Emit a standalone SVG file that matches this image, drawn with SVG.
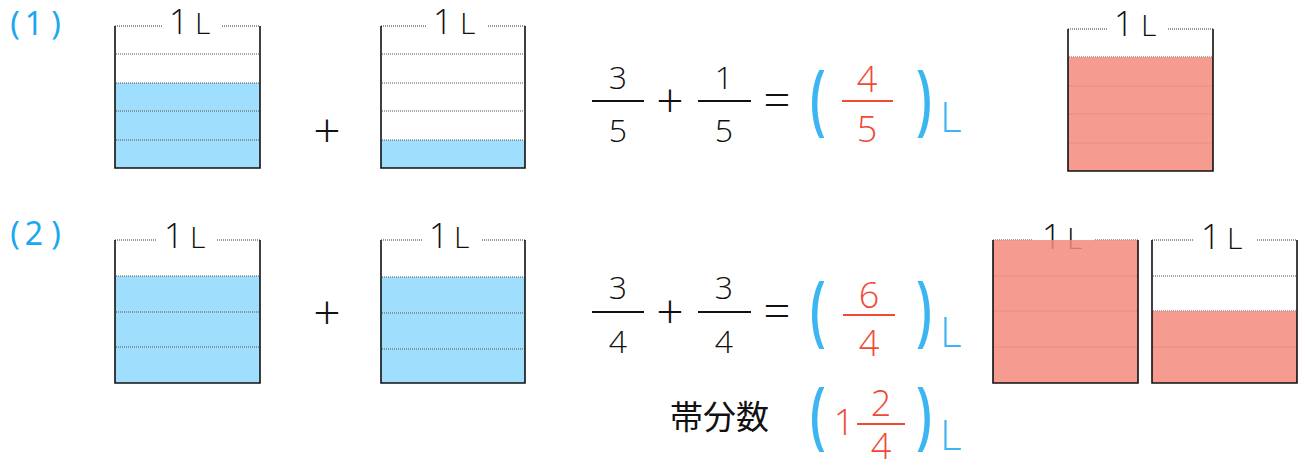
<svg xmlns="http://www.w3.org/2000/svg" width="1305" height="465" viewBox="0 0 1305 465">
<style>
.wall{fill:none;stroke:#111;stroke-width:1.6}
.top{stroke:#333;stroke-width:1;stroke-dasharray:1 1}
.div{stroke:#555;stroke-width:1;stroke-dasharray:1 1}
.blue{fill:#9fdefc}
.red{fill:#f58a7b;opacity:0.85}
.lab{font-family:"Open Sans","Noto Sans","Liberation Sans",sans-serif;font-weight:300;fill:#111}
.num{font-family:"Open Sans","Noto Sans","Liberation Sans",sans-serif;font-weight:300;font-size:32px;fill:#111;text-anchor:middle}
.rnum{font-family:"Open Sans","Noto Sans","Liberation Sans",sans-serif;font-weight:300;font-size:36px;fill:#f04a35;text-anchor:middle}
.op{font-family:"Open Sans","Noto Sans","Liberation Sans",sans-serif;font-weight:300;font-size:48px;fill:#111;text-anchor:middle}
.par{font-family:"Open Sans","Noto Sans",sans-serif;font-weight:600;font-size:50px;fill:#3cb6f3;text-anchor:middle}
.unit{font-family:"Open Sans","Noto Sans","Liberation Sans",sans-serif;font-weight:300;font-size:42px;fill:#3cb6f3}
.bar{stroke:#111;stroke-width:2}
.rbar{stroke:#f04a35;stroke-width:2}
.qn{font-family:"Noto Sans","Liberation Sans",sans-serif;font-size:32px;fill:#1aa8ef;text-anchor:middle}
</style>

<g id="q1-label"><text class="qn" y="35"><tspan x="15">(</tspan><tspan x="34">1</tspan><tspan x="56">)</tspan></text></g>
<g id="q2-label"><text class="qn" y="245"><tspan x="15">(</tspan><tspan x="34">2</tspan><tspan x="56">)</tspan></text></g>

<!-- Row 1 containers -->
<g id="r1c1">
  <rect class="blue" x="115" y="83" width="145" height="85"/>
  <line class="top" x1="115" y1="26" x2="162" y2="26"/><line class="top" x1="222" y1="26" x2="260" y2="26"/>
  <line class="div" x1="116" y1="54" x2="259" y2="54"/><line class="div" x1="116" y1="83" x2="259" y2="83"/>
  <line class="div" x1="116" y1="111" x2="259" y2="111"/><line class="div" x1="116" y1="140" x2="259" y2="140"/>
  <path class="wall" d="M115,26 V168 H260 V26"/>
  <text class="lab" x="169" y="34"><tspan font-size="34">1</tspan><tspan x="195" font-size="30">L</tspan></text>
</g>
<g id="r1c2">
  <rect class="blue" x="381" y="140" width="144" height="28"/>
  <line class="top" x1="381" y1="26" x2="427" y2="26"/><line class="top" x1="488" y1="26" x2="525" y2="26"/>
  <line class="div" x1="382" y1="54" x2="524" y2="54"/><line class="div" x1="382" y1="83" x2="524" y2="83"/>
  <line class="div" x1="382" y1="111" x2="524" y2="111"/><line class="div" x1="382" y1="140" x2="524" y2="140"/>
  <path class="wall" d="M381,26 V168 H525 V26"/>
  <text class="lab" x="433" y="34"><tspan font-size="34">1</tspan><tspan x="460" font-size="30">L</tspan></text>
</g>
<g id="r1plus"><text class="op" x="327" y="148">+</text></g>

<g id="r1c3">
  <line class="top" x1="1068" y1="29" x2="1107" y2="29"/><line class="top" x1="1168" y1="29" x2="1213" y2="29"/>
  <text class="lab" x="1114" y="36"><tspan font-size="34">1</tspan><tspan x="1141" font-size="30">L</tspan></text>
  <line class="div" x1="1069" y1="57" x2="1212" y2="57"/><line class="div" x1="1069" y1="86" x2="1212" y2="86"/>
  <line class="div" x1="1069" y1="114" x2="1212" y2="114"/><line class="div" x1="1069" y1="143" x2="1212" y2="143"/>
  <rect class="red" x="1068" y="57" width="145" height="114"/>
  <path class="wall" d="M1068,29 V171 H1213 V29"/>
</g>

<!-- Row 1 equation -->
<g id="r1eq">
  <text class="num" x="618" y="89">3</text><line class="bar" x1="592" y1="101" x2="644" y2="101"/><text class="num" x="618" y="142">5</text>
  <text class="op" x="670" y="118">+</text>
  <text class="num" x="724" y="89">1</text><line class="bar" x1="698" y1="101" x2="751" y2="101"/><text class="num" x="724" y="142">5</text>
  <text class="op" x="777" y="117">=</text>
  <text class="par" transform="translate(818,126) scale(1,1.55)">(</text>
  <text class="rnum" x="867" y="92">4</text><line class="rbar" x1="842" y1="101" x2="893" y2="101"/><text class="rnum" x="867" y="142">5</text>
  <text class="par" transform="translate(924,126) scale(1,1.55)">)</text>
  <text class="unit" x="940" y="132">L</text>
</g>

<!-- Row 2 containers -->
<g id="r2c1">
  <rect class="blue" x="115" y="276" width="145" height="107"/>
  <line class="top" x1="115" y1="240" x2="157" y2="240"/><line class="top" x1="217" y1="240" x2="260" y2="240"/>
  <line class="div" x1="116" y1="276" x2="259" y2="276"/><line class="div" x1="116" y1="312" x2="259" y2="312"/>
  <line class="div" x1="116" y1="347" x2="259" y2="347"/>
  <path class="wall" d="M115,240 V383 H260 V240"/>
  <text class="lab" x="164" y="248"><tspan font-size="34">1</tspan><tspan x="190" font-size="30">L</tspan></text>
</g>
<g id="r2c2">
  <rect class="blue" x="381" y="277" width="144" height="106"/>
  <line class="top" x1="381" y1="240" x2="422" y2="240"/><line class="top" x1="482" y1="240" x2="525" y2="240"/>
  <line class="div" x1="382" y1="277" x2="524" y2="277"/><line class="div" x1="382" y1="313" x2="524" y2="313"/>
  <line class="div" x1="382" y1="349" x2="524" y2="349"/>
  <path class="wall" d="M381,240 V383 H525 V240"/>
  <text class="lab" x="429" y="248"><tspan font-size="34">1</tspan><tspan x="454" font-size="30">L</tspan></text>
</g>
<g id="r2plus"><text class="op" x="327" y="330">+</text></g>

<g id="r2c3">
  <line class="top" x1="993" y1="240" x2="1033" y2="240"/><line class="top" x1="1095" y1="240" x2="1138" y2="240"/>
  <text class="lab" x="1042" y="249"><tspan font-size="34">1</tspan><tspan x="1067" font-size="30">L</tspan></text>
  <line class="div" x1="994" y1="276" x2="1137" y2="276"/><line class="div" x1="994" y1="311" x2="1137" y2="311"/>
  <line class="div" x1="994" y1="347" x2="1137" y2="347"/>
  <rect class="red" x="993" y="240" width="145" height="143"/>
  <path class="wall" d="M993,240 V383 H1138 V240"/>
</g>
<g id="r2c4">
  <line class="top" x1="1152" y1="240" x2="1193" y2="240"/><line class="top" x1="1257" y1="240" x2="1297" y2="240"/>
  <text class="lab" x="1201" y="249"><tspan font-size="34">1</tspan><tspan x="1227" font-size="30">L</tspan></text>
  <line class="div" x1="1153" y1="276" x2="1296" y2="276"/><line class="div" x1="1153" y1="311" x2="1296" y2="311"/>
  <line class="div" x1="1153" y1="347" x2="1296" y2="347"/>
  <rect class="red" x="1152" y="311" width="145" height="72"/>
  <path class="wall" d="M1152,240 V383 H1297 V240"/>
</g>

<!-- Row 2 equation -->
<g id="r2eq">
  <text class="num" x="618" y="299">3</text><line class="bar" x1="592" y1="312" x2="644" y2="312"/><text class="num" x="618" y="353">4</text>
  <text class="op" x="670" y="329">+</text>
  <text class="num" x="724" y="299">3</text><line class="bar" x1="698" y1="312" x2="751" y2="312"/><text class="num" x="724" y="353">4</text>
  <text class="op" x="777" y="328">=</text>
  <text class="par" transform="translate(818,337) scale(1,1.55)">(</text>
  <text class="rnum" x="869" y="308">6</text><line class="rbar" x1="843" y1="315" x2="895" y2="315"/><text class="rnum" x="869" y="356">4</text>
  <text class="par" transform="translate(924,337) scale(1,1.55)">)</text>
  <text class="unit" x="940" y="347">L</text>
</g>

<!-- Mixed number -->
<g id="mixed">
  <text x="670" y="429" font-family="'Noto Sans CJK JP','Noto Sans CJK SC',sans-serif" font-size="33" fill="#111">帯分数</text>
  <text class="par" transform="translate(818,440) scale(1,1.5)">(</text>
  <text class="rnum" x="844" y="435" font-size="44">1</text>
  <text class="rnum" x="881" y="416" font-size="39">2</text>
  <line class="rbar" x1="857" y1="424" x2="905" y2="424"/>
  <text class="rnum" x="881" y="459" font-size="38">4</text>
  <text class="par" transform="translate(924,440) scale(1,1.5)">)</text>
  <text class="unit" x="940" y="450">L</text>
</g>
</svg>
